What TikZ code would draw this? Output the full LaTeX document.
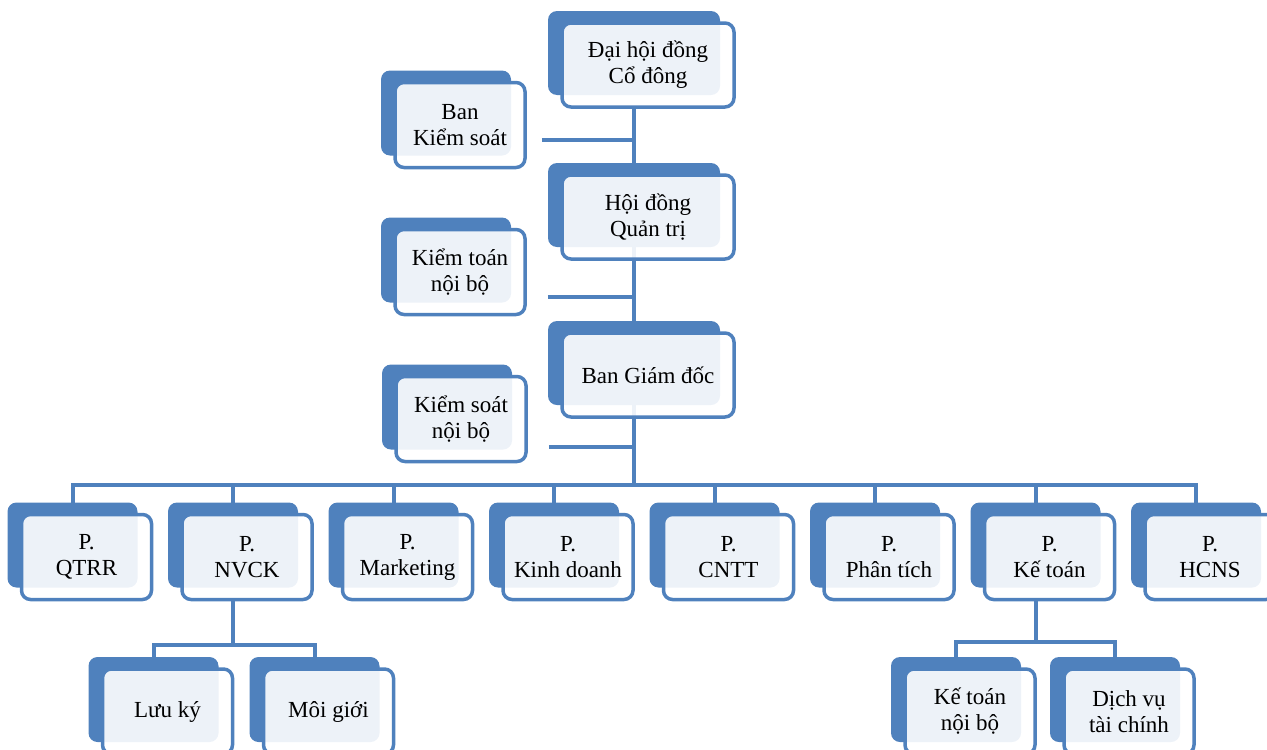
\documentclass[tikz,border=0pt]{standalone}
\usepackage{fontspec}
\setmainfont{Liberation Serif}
\usetikzlibrary{shadows,backgrounds}
\definecolor{tab}{HTML}{4F81BD}

\begin{document}
\begin{tikzpicture}[x=1pt,y=-1pt,align=center,font=\fontsize{23}{26}\selectfont,
  box/.style={draw=tab,line width=3.5pt,rounded corners=9pt,fill=white,fill opacity=0.9,text opacity=1,inner sep=0pt,
    copy shadow={shadow xshift=-14pt,shadow yshift=12pt,fill=tab,draw=none,opacity=1,fill opacity=1}},
  big/.style={box,minimum width=172pt,minimum height=84pt},
  small/.style={box,minimum width=130pt,minimum height=85pt},
  link/.style={draw=tab,line width=4pt}]
\useasboundingbox (0,0) rectangle (1267,750);
\node[big] (DH) at (648,65) {Đại hội đồng\\Cổ đông};
\node[big] (HD) at (648,217) {Hội đồng\\Quản trị};
\node[big] (GD) at (648,375) {Ban Giám đốc};
\node[small] (KS) at (460,125) {Ban\\Kiểm soát};
\node[small] (KT) at (460,272) {Kiểm toán\\nội bộ};
\node[small] (KN) at (461,419) {Kiểm soát\\nội bộ};
\node[small] (P1) at (86.5,557) {P.\\QTRR};
\node[small] (P2) at (247,557) {P.\\NVCK};
\node[small] (P3) at (407.5,557) {P.\\Marketing};
\node[small] (P4) at (568,557) {P.\\Kinh doanh};
\node[small] (P5) at (728.5,557) {P.\\CNTT};
\node[small] (P6) at (889,557) {P.\\Phân tích};
\node[small] (P7) at (1049.5,557) {P.\\Kế toán};
\node[small] (P8) at (1210,557) {P.\\HCNS};
\node[small] (C1) at (167.5,711.5) {Lưu ký};
\node[small] (C2) at (328.5,711.5) {Môi giới};
\node[small] (C3) at (970,711.5) {Kế toán\\nội bộ};
\node[small] (C4) at (1129,711.5) {Dịch vụ\\tài chính};
\coordinate (bus) at (634,485);
\coordinate (J2) at (233,645);
\coordinate (J7) at (1035.5,642);
\begin{scope}[on background layer]
\draw[link] ([xshift=-14pt]DH.south) -- (bus);
\draw[link] ([xshift=15pt,yshift=-15pt]KS.east) -| ([xshift=-14pt]DH.south);
\draw[link] ([xshift=21pt,yshift=-25pt]KT.east) -| ([xshift=-14pt]HD.south);
\draw[link] ([xshift=21pt,yshift=-28pt]KN.east) -| ([xshift=-14pt]GD.south);
\draw[link] ([xshift=-14pt]P1.north) |- (bus);
\draw[link] ([xshift=-14pt]P2.north) |- (bus);
\draw[link] ([xshift=-14pt]P3.north) |- (bus);
\draw[link] ([xshift=-14pt]P4.north) |- (bus);
\draw[link] ([xshift=-14pt]P5.north) |- (bus);
\draw[link] ([xshift=-14pt]P6.north) |- (bus);
\draw[link] ([xshift=-14pt]P7.north) |- (bus);
\draw[link] ([xshift=-14pt]P8.north) |- (bus);
\draw[link] ([xshift=-14pt]C1.north) |- (J2) -- ([xshift=-14pt]P2.south);
\draw[link] ([xshift=-14pt]C2.north) |- (J2);
\draw[link] ([xshift=-14pt]C3.north) |- (J7) -- ([xshift=-14pt]P7.south);
\draw[link] ([xshift=-14pt]C4.north) |- (J7);
\end{scope}
\end{tikzpicture}
\end{document}
